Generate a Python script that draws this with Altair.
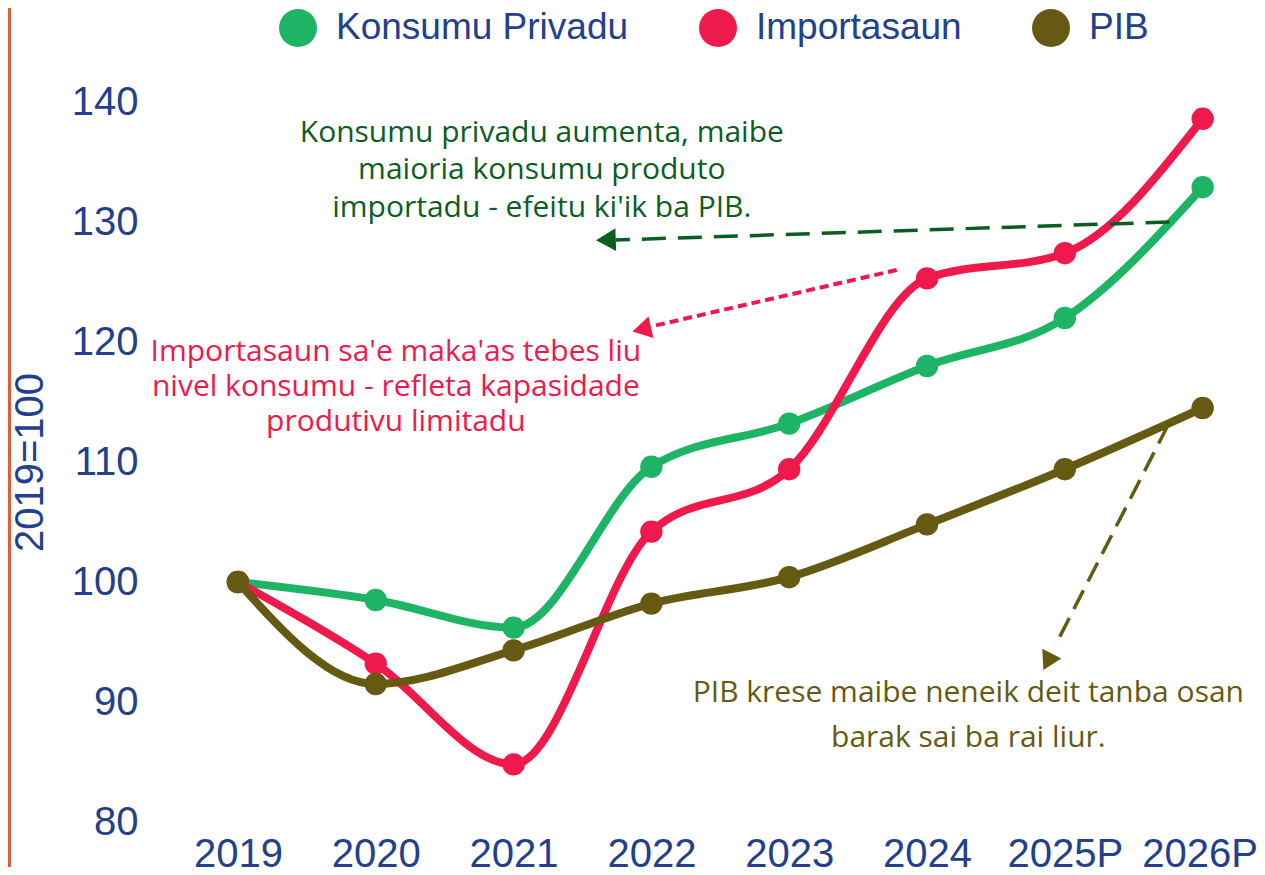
import altair as alt
import pandas as pd

# ---------------- data ----------------
years = ["2019", "2020", "2021", "2022", "2023", "2024", "2025P", "2026P"]
series_names = ["Konsumu Privadu", "Importasaun", "PIB"]
konsumu = [100.0, 98.5, 96.2, 109.6, 113.2, 118.0, 122.0, 132.9]
importasaun = [100.0, 93.2, 84.8, 104.2, 109.4, 125.3, 127.4, 138.6]
pib = [100.0, 91.5, 94.3, 98.2, 100.4, 104.8, 109.4, 114.5]
colors = ["#1DB465", "#F0194B", "#665A12"]

y_ticks = [80, 90, 100, 110, 120, 130, 140]

# annotation texts (one entry per line) and their positions (x index, y value)
green_lines = ["Konsumu privadu aumenta, maibe", "maioria konsumu produto", "importadu - efeitu ki'ik ba PIB."]
green_x = [2.205, 2.205, 2.205]
green_y = [137.4, 134.3, 131.2]
red_lines = ["Importasaun sa'e maka'as tebes liu", "nivel konsumu - refleta kapasidade", "produtivu limitadu"]
red_x = [1.146, 1.146, 1.146]
red_y = [119.2, 116.25, 113.3]
olive_lines = ["PIB krese maibe neneik deit tanba osan", "barak sai ba rai liur."]
olive_x = [5.30, 5.30]
olive_y = [90.75, 87.0]

# arrows: start (x, y), end (x2, y2), head position and head angle
green_arrow = {"x": 6.76, "y": 130.0, "x2": 2.74, "y2": 128.5, "hx": 2.67, "hy": 128.5, "ang": 268}
red_arrow = {"x": 4.78, "y": 126.0, "x2": 3.00, "y2": 121.3, "hx": 2.93, "hy": 121.05, "ang": 257}
olive_arrow = {"x": 6.75, "y": 113.1, "x2": 5.93, "y2": 94.7, "hx": 5.875, "hy": 93.35, "ang": 207}

green_txt = "#0B5E1E"
red_txt = "#F0194B"
olive_txt = "#665A12"
axis_blue = "#22408E"

# ---------------- tables ----------------
rows = []
for name, vals in zip(series_names, [konsumu, importasaun, pib]):
    for i, (yr, v) in enumerate(zip(years, vals)):
        rows.append({"serie": name, "idx": i, "ano": yr, "valor": v})
df = pd.DataFrame(rows)

label_expr = "[" + ",".join(f"'{y}'" for y in years) + "][datum.value]"
last_idx = len(years) - 1

xscale = alt.Scale(domain=[-0.5, 7.3], nice=False, zero=False)
yscale = alt.Scale(domain=[80, 140], nice=False, zero=False)

x_enc = alt.X(
    "idx:Q", scale=xscale, title=None,
    axis=alt.Axis(values=list(range(len(years))), labelExpr=label_expr,
                  labelFontSize=40, labelFont="Liberation Sans", labelColor=axis_blue,
                  labelPadding=12, domain=False, ticks=False, tickSize=0, grid=False,
                  labelOverlap=False, labelFlush=False,
                  labelOffset={"condition": {"test": f"datum.value === {last_idx}", "value": -3},
                               "value": 0}),
)
y_enc = alt.Y(
    "valor:Q", scale=yscale, title="2019=100",
    axis=alt.Axis(values=y_ticks, labelFontSize=40, labelFont="Liberation Sans",
                  labelColor=axis_blue, labelPadding=31, domain=False, ticks=False,
                  tickSize=0, grid=False, titleFont="Liberation Sans", titleFontSize=40,
                  titleFontWeight="normal", titleColor=axis_blue, titleAngle=270,
                  titleX=-139, titleY=360, titleAlign="center", titleBaseline="middle"),
)

color_scale = alt.Scale(domain=series_names, range=colors)
legend = alt.Legend(orient="none", legendX=110, legendY=-93, direction="horizontal",
                    title=None, symbolType="circle", symbolSize=1444,
                    symbolStrokeWidth=0, labelFontSize=37, labelLimit=600,
                    labelFont="Liberation Sans", labelColor=axis_blue, labelOffset=19,
                    columnPadding=70, padding=0)

lines = alt.Chart(df).mark_line(interpolate="monotone", strokeWidth=8, strokeCap="round").encode(
    x=x_enc, y=y_enc,
    color=alt.Color("serie:N", scale=color_scale, sort=series_names, legend=legend),
    order=alt.Order("idx:Q"),
)

points = alt.Chart(df).mark_point(filled=True, size=500, opacity=1, strokeWidth=0).encode(
    x=alt.X("idx:Q", scale=xscale),
    y=alt.Y("valor:Q", scale=yscale),
    color=alt.Color("serie:N", scale=color_scale, sort=series_names, legend=legend),
)


def text_layer(lines_, xs, ys, color):
    t = pd.DataFrame({"x": xs, "y": ys, "t": lines_})
    return alt.Chart(t).mark_text(font="Open Sans", fontSize=30, align="center",
                                  baseline="middle", color=color).encode(
        x=alt.X("x:Q", scale=xscale), y=alt.Y("y:Q", scale=yscale), text="t:N")


def arrow_layers(a, color, dash, width, head_size):
    seg = pd.DataFrame([{"x": a["x"], "y": a["y"], "x2": a["x2"], "y2": a["y2"]}])
    head = pd.DataFrame([{"x": a["hx"], "y": a["hy"], "ang": a["ang"]}])
    r = alt.Chart(seg).mark_rule(color=color, strokeWidth=width, strokeDash=dash).encode(
        x=alt.X("x:Q", scale=xscale), y=alt.Y("y:Q", scale=yscale), x2="x2:Q", y2="y2:Q")
    h = alt.Chart(head).mark_point(shape="triangle-up", filled=True, size=head_size,
                                   color=color, opacity=1, strokeWidth=0).encode(
        x=alt.X("x:Q", scale=xscale), y=alt.Y("y:Q", scale=yscale),
        angle=alt.Angle("ang:Q", scale=None))
    return [r, h]


edge = alt.Chart(pd.DataFrame({"a": [0]})).mark_rule(color="#D9603B", strokeWidth=3).encode(
    x=alt.value(-159.5), y=alt.value(-120), y2=alt.value(800))

layers = [edge, lines, points,
          text_layer(green_lines, green_x, green_y, green_txt),
          text_layer(red_lines, red_x, red_y, red_txt),
          text_layer(olive_lines, olive_x, olive_y, olive_txt)]
layers += arrow_layers(green_arrow, "#0B5E1E", [24, 12], 3.5, 520)
layers += arrow_layers(red_arrow, "#F0194B", [9, 5], 4, 480)
layers += arrow_layers(olive_arrow, "#665A12", [21, 10], 3.5, 460)

chart = alt.layer(*layers).properties(
    width=1075, height=720, autosize="none",
    padding={"left": 161, "top": 94, "right": 13, "bottom": 45},
    background="white",
).configure_view(stroke=None)

chart.save("out.html", embed_options={"renderer": "svg", "actions": False})
